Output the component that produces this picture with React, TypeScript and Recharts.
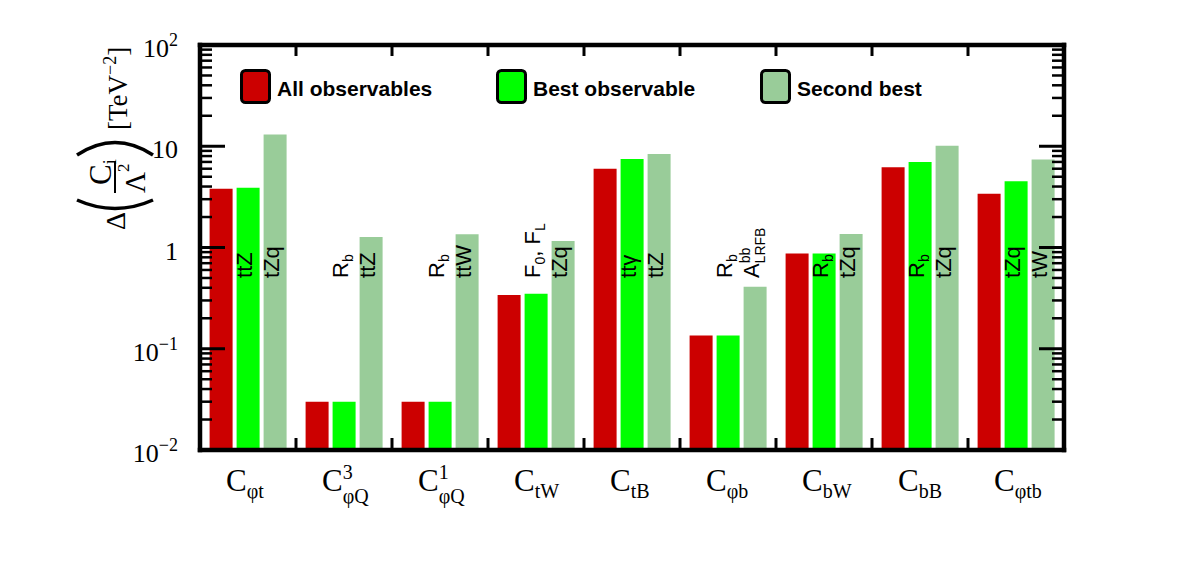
import React from 'react';
import { BarChart, Bar, XAxis, YAxis, Legend, LabelList } from 'recharts';

const W = 1182;
const H = 563;
const MARGIN = { top: 35, right: 98, bottom: 53, left: 100 };
const LEFT_AXIS_W = 100;
const RIGHT_AXIS_W = 20;
const TOP_AXIS_H = 10;
const BOTTOM_AXIS_H = 60;

// data
const coefficients = ['C_{φt}', 'C^{3}_{φQ}', 'C^{1}_{φQ}', 'C_{tW}', 'C_{tB}', 'C_{φb}', 'C_{bW}', 'C_{bB}', 'C_{φtb}'];
const allObservables = [3.8, 0.03, 0.03, 0.34, 6.0, 0.135, 0.87, 6.2, 3.4];
const bestObservable = [3.9, 0.03, 0.03, 0.35, 7.5, 0.135, 0.87, 7.0, 4.5];
const secondBest = [13.1, 1.27, 1.35, 1.16, 8.4, 0.41, 1.36, 10.1, 7.4];
const bestLabels = ['ttZ', 'R_{b}', 'R_{b}', 'F_{0}, F_{L}', 'ttγ', 'R_{b}', 'R_{b}', 'R_{b}', 'tZq'];
const secondLabels = ['tZq', 'ttZ', 'ttW', 'tZq', 'ttZ', 'A^{bb}_{LRFB}', 'tZq', 'tZq', 'tW'];

const seriesNames = ['All observables', 'Best observable', 'Second best'];
const seriesColors = ['#cc0000', '#00ff00', '#99cc99'];

const yMajorTicks = [0.01, 0.1, 1, 10, 100];
const yTickLabels = ['10^{−2}', '10^{−1}', '1', '10', '10^{2}'];
const yMinorSteps = [2, 3, 4, 5, 6, 7, 8, 9];
const Y_MIN = 0.01;
const Y_MAX = 100;
const LABEL_AT = 0.5; // bar text starts at this value

const yTicks = yMajorTicks.flatMap((m, i) =>
  i < yMajorTicks.length - 1 ? [m, ...yMinorSteps.map((s) => +(m * s).toPrecision(3))] : [m]
);

const rows = coefficients.map((name, i) => ({
  name,
  all: allObservables[i],
  best: bestObservable[i],
  second: secondBest[i],
  bestLabel: bestLabels[i],
  secondLabel: secondLabels[i],
}));

const PLOT_LEFT = MARGIN.left + LEFT_AXIS_W;
const PLOT_RIGHT = W - MARGIN.right - RIGHT_AXIS_W;
const BAND = (PLOT_RIGHT - PLOT_LEFT) / coefficients.length;

const SERIF = '"Liberation Serif", "Times New Roman", serif';
const SANS = '"Liberation Sans", Arial, sans-serif';

type Seg = { t: string; kind: 'n' | 'sub' | 'sup' };

function parseRich(s: string): Seg[] {
  const out: Seg[] = [];
  let buf = '';
  let i = 0;
  while (i < s.length) {
    const c = s[i];
    if ((c === '_' || c === '^') && s[i + 1] === '{') {
      if (buf) {
        out.push({ t: buf, kind: 'n' });
        buf = '';
      }
      const end = s.indexOf('}', i);
      out.push({ t: s.slice(i + 2, end), kind: c === '_' ? 'sub' : 'sup' });
      i = end + 1;
    } else {
      buf += c;
      i++;
    }
  }
  if (buf) out.push({ t: buf, kind: 'n' });
  return out;
}

type RichOpts = { sub: number; subDy: number; supDy: number; stackDy: number; charW: number };

function rich(s: string, o: RichOpts) {
  const segs = parseRich(s);
  let cur = 0;
  return segs.map((seg, k) => {
    const prev = segs[k - 1];
    let target = 0;
    let fs: number | undefined;
    let dx: number | undefined;
    if (seg.kind === 'sup') {
      target = o.supDy;
      fs = o.sub;
    } else if (seg.kind === 'sub') {
      fs = o.sub;
      if (prev && prev.kind === 'sup') {
        target = o.stackDy;
        dx = -prev.t.length * o.charW * o.sub;
      } else {
        target = o.subDy;
      }
    }
    const dy = target - cur;
    cur = target;
    return (
      <tspan key={k} dx={dx} dy={dy || undefined} fontSize={fs}>
        {seg.t}
      </tspan>
    );
  });
}

const LeftTick = (props: any) => {
  const { x, y, payload } = props;
  const mi = yMajorTicks.findIndex((m) => Math.abs(m - payload.value) / m < 1e-6);
  const major = mi >= 0;
  return (
    <g>
      <line x1={x} x2={x + (major ? 25 : 12)} y1={y} y2={y} stroke="#000" strokeWidth={major ? 3 : 2.5} />
      {major && (
        <text x={x - 22} y={y + 12} textAnchor="end" fontFamily={SERIF} fontSize={26} fill="#000">
          {rich(yTickLabels[mi], { sub: 18, subDy: 5, supDy: -11, stackDy: 8, charW: 0.5 })}
        </text>
      )}
    </g>
  );
};

const RightTick = (props: any) => {
  const { x, y, payload } = props;
  const major = yMajorTicks.some((m) => Math.abs(m - payload.value) / m < 1e-6);
  return <line x1={x} x2={x - (major ? 25 : 12)} y1={y} y2={y} stroke="#000" strokeWidth={major ? 3 : 2.5} />;
};

const BottomTick = (props: any) => {
  const { x, y, payload, index } = props;
  return (
    <g>
      {index > 0 && (
        <line x1={x - BAND / 2} x2={x - BAND / 2} y1={y} y2={y - 12} stroke="#000" strokeWidth={3} />
      )}
      <text x={x - 22} y={y + 41} fontFamily={SERIF} fontSize={31} fill="#000">
        {rich(payload.value, { sub: 20, subDy: 7, supDy: -12, stackDy: 12, charW: 0.5 })}
      </text>
    </g>
  );
};

const TopTick = (props: any) => {
  const { x, y, index } = props;
  if (index === 0) return <g />;
  return <line x1={x - BAND / 2} x2={x - BAND / 2} y1={y} y2={y + 11} stroke="#000" strokeWidth={3} />;
};

const YLabel = (props: any) => {
  const vb = props.viewBox;
  const x0 = vb.x + 15;
  const y0 = vb.y + 185;
  return (
    <g transform={`translate(${x0},${y0}) rotate(-90)`} fontFamily={SERIF} fill="#000">
      <text x={0} y={10} fontSize={28}>Δ</text>
      <path d="M 30 -38 Q 13 0 30 38" fill="none" stroke="#000" strokeWidth={3.5} />
      <text x={45} y={-4} fontSize={31}>
        C<tspan fontSize={18} dy={5}>i</tspan>
      </text>
      <line x1={37} x2={69} y1={0} y2={0} stroke="#000" strokeWidth={2} />
      <text x={37} y={30} fontSize={29}>
        Λ<tspan fontSize={17} dy={-16}>2</tspan>
      </text>
      <path d="M 75 -38 Q 100 0 75 38" fill="none" stroke="#000" strokeWidth={3.5} />
      <text x={100} y={12} fontSize={27}>
        [TeV<tspan fontSize={18} dy={-11}>−2</tspan>
        <tspan dy={11}>]</tspan>
      </text>
    </g>
  );
};

const makeBarLabel = (values: number[]) => (props: any) => {
  const vb = props.viewBox && props.viewBox.width != null ? props.viewBox : props;
  const { x, y, width, height } = vb;
  const index = props.index;
  const h = Math.abs(height);
  const bottom = Math.max(y, y + height);
  const perDecade = h / Math.log10(values[index] / Y_MIN);
  const ly = bottom - perDecade * Math.log10(LABEL_AT / Y_MIN);
  const lx = x + width / 2 + 4;
  return (
    <text transform={`translate(${lx},${ly}) rotate(-90)`} fontFamily={SANS} fontSize={22} fill="#000">
      {rich(String(props.value), { sub: 14, subDy: 5, supDy: -9, stackDy: 6, charW: 0.56 })}
    </text>
  );
};

const legendX = [240, 496, 760];

const LegendContent = (props: any) => {
  const payload = props.payload || [];
  return (
    <svg width={W} height={110} style={{ display: 'block' }}>
      {payload.map((p: any, i: number) => (
        <g key={i}>
          <rect x={legendX[i] + 1.5} y={70.5} width={28} height={32} rx={4} fill={p.color} stroke="#000" strokeWidth={3} />
          <text x={legendX[i] + 37} y={96} fontFamily={SANS} fontWeight="bold" fontSize={21} fill="#000">
            {p.value}
          </text>
        </g>
      ))}
    </svg>
  );
};

const frameLine = { stroke: '#000', strokeWidth: 4.5, strokeLinecap: 'square' as const };

export default function App() {
  return (
    <div style={{ position: 'absolute', left: 0, top: 0, width: W, height: H, background: '#fff' }}>
      <BarChart width={W} height={H} data={rows} margin={MARGIN} barCategoryGap="10%" barGap={4}>
        <Bar dataKey="all" name={seriesNames[0]} fill={seriesColors[0]} xAxisId="bottom" yAxisId="left" isAnimationActive={false} />
        <Bar dataKey="best" name={seriesNames[1]} fill={seriesColors[1]} xAxisId="bottom" yAxisId="left" isAnimationActive={false}>
          <LabelList dataKey="bestLabel" content={makeBarLabel(bestObservable)} />
        </Bar>
        <Bar dataKey="second" name={seriesNames[2]} fill={seriesColors[2]} xAxisId="bottom" yAxisId="left" isAnimationActive={false}>
          <LabelList dataKey="secondLabel" content={makeBarLabel(secondBest)} />
        </Bar>
        <XAxis
          xAxisId="bottom"
          dataKey="name"
          height={BOTTOM_AXIS_H}
          tickLine={false}
          tickSize={0}
          tickMargin={0}
          interval={0}
          axisLine={frameLine}
          tick={<BottomTick />}
        />
        <XAxis
          xAxisId="top"
          orientation="top"
          dataKey="name"
          height={TOP_AXIS_H}
          tickLine={false}
          tickSize={0}
          tickMargin={0}
          interval={0}
          axisLine={frameLine}
          tick={<TopTick />}
        />
        <YAxis
          yAxisId="left"
          scale="log"
          type="number"
          domain={[Y_MIN, Y_MAX]}
          allowDataOverflow
          ticks={yTicks}
          interval={0}
          width={LEFT_AXIS_W}
          tickLine={false}
          tickSize={0}
          tickMargin={0}
          axisLine={frameLine}
          tick={<LeftTick />}
          label={{ content: (p: any) => <YLabel {...p} /> }}
        />
        <YAxis
          yAxisId="right"
          orientation="right"
          scale="log"
          type="number"
          domain={[Y_MIN, Y_MAX]}
          allowDataOverflow
          ticks={yTicks}
          interval={0}
          width={RIGHT_AXIS_W}
          tickLine={false}
          tickSize={0}
          tickMargin={0}
          axisLine={frameLine}
          tick={<RightTick />}
        />
        <Legend
          layout="vertical"
          align="center"
          verticalAlign="middle"
          wrapperStyle={{ left: 0, top: 0, width: W, height: 110 }}
          content={<LegendContent />}
        />
      </BarChart>
    </div>
  );
}
